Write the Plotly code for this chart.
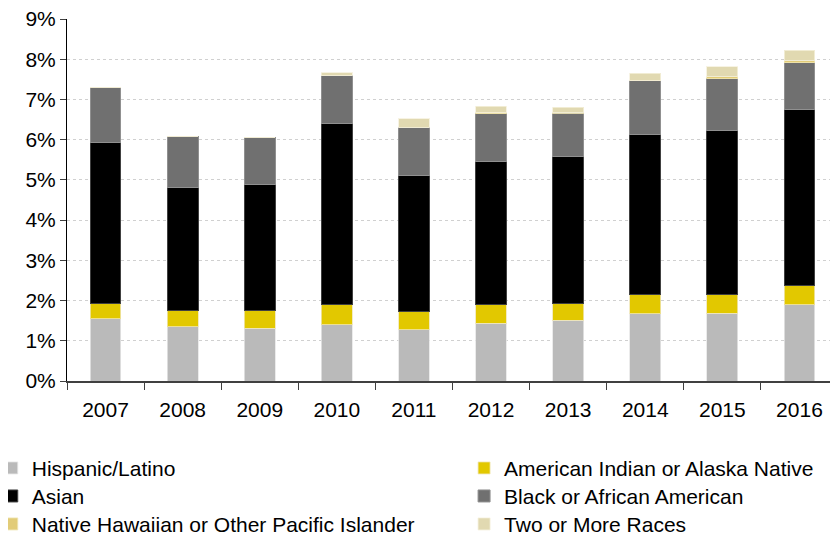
import plotly.graph_objects as go

years = ["2007", "2008", "2009", "2010", "2011", "2012", "2013", "2014", "2015", "2016"]
hispanic = [1.55, 1.35, 1.31, 1.40, 1.27, 1.43, 1.51, 1.67, 1.69, 1.90]
aian = [0.38, 0.40, 0.44, 0.49, 0.47, 0.46, 0.42, 0.49, 0.45, 0.48]
asian = [4.00, 3.07, 3.14, 4.52, 3.38, 3.57, 3.65, 3.96, 4.10, 4.38]
black = [1.36, 1.25, 1.16, 1.19, 1.19, 1.19, 1.08, 1.35, 1.27, 1.15]
nhpi = [0.00, 0.00, 0.00, 0.00, 0.00, 0.03, 0.01, 0.01, 0.05, 0.05]
two_more = [0.00, 0.00, 0.00, 0.07, 0.21, 0.15, 0.13, 0.17, 0.25, 0.26]

# (name, values, fill, edge)
series = [
    ("Hispanic/Latino", hispanic, "#bababa", "rgba(230,230,230,0.8)"),
    ("American Indian or Alaska Native", aian, "#e2c800", "rgba(240,230,180,0.8)"),
    ("Asian", asian, "#000000", "#404040"),
    ("Black or African American", black, "#707070", "#909090"),
    ("Native Hawaiian or Other Pacific Islander", nhpi, "#e2cc78", "rgba(240,230,180,0.8)"),
    ("Two or More Races", two_more, "#e1d9b1", "rgba(245,240,220,0.8)"),
]

# legend grid: 2 columns x 3 rows (paper coordinates)
col_x = [-0.0976, 0.515]
row_y = [-0.1845, -0.2619, -0.3392]

fig = go.Figure()
legends = {}
for i, (name, vals, color, lc) in enumerate(series):
    lg = "legend" if i == 0 else f"legend{i + 1}"
    fig.add_trace(go.Bar(
        x=years, y=vals, name=name, legend=lg,
        marker=dict(color=color, line=dict(color=lc, width=1)),
    ))
    legends[lg] = dict(
        orientation="v",
        xref="paper", yref="paper",
        x=col_x[i % 2], y=row_y[i // 2],
        xanchor="left", yanchor="top",
        font=dict(size=21, color="#000000", family="Liberation Sans, Arial"),
        itemwidth=30,
        bgcolor="rgba(0,0,0,0)",
    )

fig.update_layout(
    barmode="stack",
    bargap=0.6,
    width=830, height=529,
    margin=dict(l=59, r=0, t=11, b=156, autoexpand=False),
    plot_bgcolor="white", paper_bgcolor="white",
    font=dict(family="Liberation Sans, Arial", size=20, color="#000000"),
    showlegend=True,
    xaxis=dict(
        type="category",
        showline=True, linecolor="#404040", linewidth=2,
        ticks="outside", tickson="boundaries", ticklen=7, tickcolor="#404040", tickwidth=1,
        tickfont=dict(size=21),
        ticklabelstandoff=9,
        showgrid=False,
    ),
    yaxis=dict(
        range=[0, 9], dtick=1, ticksuffix="%",
        showline=True, linecolor="#000000", linewidth=1,
        ticks="outside", ticklen=6, tickcolor="#404040", tickwidth=1,
        showgrid=True, gridcolor="#d0d0d0", griddash="dot", gridwidth=1,
        tickfont=dict(size=21),
        ticklabeloverflow="allow",
        zeroline=False,
    ),
    **legends,
)

fig.write_html("out.html")
